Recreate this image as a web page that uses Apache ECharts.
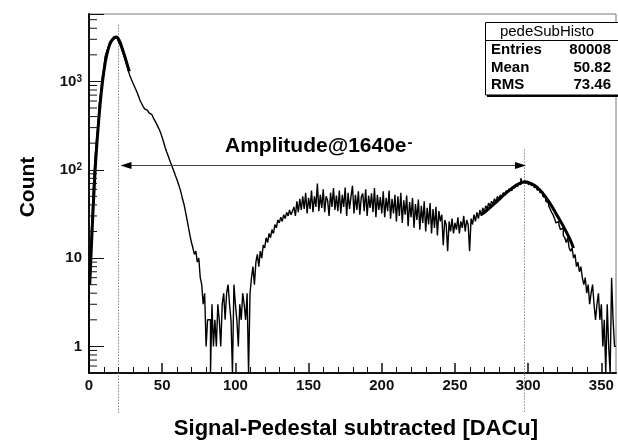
<!DOCTYPE html>
<html><head><meta charset="utf-8">
<script src="https://cdn.jsdelivr.net/npm/echarts@6/dist/echarts.min.js"></script>
<style>html,body{margin:0;padding:0;background:#fff}#c{width:618px;height:441px}</style>
</head><body><div id="c"></div>
<script>
// ---- data ----
const binStart = 0;
const binWidth = 1;
const counts = [
  5, 12, 27, 65, 130, 205, 300, 560, 750, 1100,
  1350, 1900, 2150, 2400, 2750, 2900, 3000, 3150, 3180, 3120,
  2850, 2650, 2400, 2150, 1950, 1700, 1500, 1300, 1150, 1050,
  960, 880, 810, 740, 670, 600, 560, 520, 490, 470,
  455, 440, 420, 405, 385, 360, 335, 310, 285, 260,
  232, 205, 180, 160, 145, 130, 118, 106, 96, 86,
  78, 70, 62, 54, 46, 40, 33, 27, 22, 18,
  15, 13, 11, 12, 9, 10, 6, 5, 3, 4,
  1, 2, 2, 0, 3, 1, 2, 1, 3, 2,
  1, 3, 4, 2, 4, 5, 3, 2, 0, 5,
  3, 2, 1, 3, 2, 4, 3, 2, 4, 0,
  4, 6, 8, 5, 9, 11, 8, 12, 10, 14,
  13, 17, 15, 19, 17, 21, 19, 24, 22, 27,
  25, 29, 26, 31, 28, 33, 30, 35, 31, 34,
  38, 30, 44, 33, 47, 35, 50, 36, 55, 32,
  48, 36, 58, 33, 50, 38, 70, 34, 52, 37,
  60, 33, 50, 45, 30, 55, 38, 62, 35, 51,
  34, 58, 32, 52, 38, 63, 30, 55, 36, 50,
  66, 32, 52, 35, 57, 31, 49, 54, 34, 60,
  30, 51, 37, 54, 33, 62, 29, 52, 35, 49,
  32, 57, 29, 48, 34, 58, 28, 47, 32, 52,
  26, 50, 30, 55, 25, 45, 31, 51, 23, 43,
  29, 48, 22, 41, 27, 46, 21, 39, 25, 44,
  20, 37, 24, 42, 19, 36, 22, 38, 18, 34,
  26, 31, 14, 27, 24, 12, 26, 20, 28, 19,
  25, 21, 29, 19, 26, 22, 30, 20, 27, 24,
  12, 28, 24, 31, 26, 33, 28, 35, 30, 37,
  33, 39, 36, 42, 38, 44, 41, 47, 43, 50,
  46, 52, 49, 55, 51, 58, 55, 61, 58, 64,
  62, 67, 65, 70, 68, 80, 71, 74, 70, 73,
  68, 71, 66, 68, 63, 64, 59, 60, 55, 56,
  50, 48, 44, 42, 39, 36, 33, 31, 28, 25,
  26, 24, 21, 22, 18, 17, 15, 17, 13, 12,
  13, 10, 11, 8, 9, 7, 8, 6, 5, 6,
  4, 5, 3, 4, 5, 3, 2, 3, 4, 2,
  3, 1, 2, 0, 3, 1, 0, 6, 2, 1
];
const fitLeftX = [0.5,1.5,2.5,3.5,4.5,5.5,6.5,7.5,8.5,9.5,10.5,11.5,12.5,13.5,14.5,15.5,16.5,17.5,18.5,19.5,20.5,21.5,22.5,23.5,24.5,25.5,26.5,27.5];
const fitLeftY = [5,12,28,60,120,210,340,530,780,1080,1420,1780,2120,2430,2700,2900,3050,3150,3180,3120,2950,2700,2420,2150,1900,1680,1480,1300];
const fitRightX = [268,272,276,280,284,288,292,296,298,300,304,308,312,316,320,324,328,331];
const fitRightY = [31,35,40,46,53,60,67,72,73,72,67,59,49,39,30,23,17,13];
const xMin = 0, xMax = 360, xInterval = 50;
const xMinorTicks = [10,20,30,40,60,70,80,90,110,120,130,140,160,170,180,190,210,220,230,240,260,270,280,290,310,320,330,340];
const yMin = 0.5, yMax = 5800;
const yMinorTicks = [0.6,0.7,0.8,0.9,2,3,4,5,6,7,8,9,20,30,40,50,60,70,80,90,200,300,400,500,600,700,800,900,2000,3000,4000,5000];
const markerX = [19.5, 297];
const markerTop = [4400, 170];
const markerBottom = 0.175;
const arrowFrom = 21.5, arrowTo = 298.5, arrowY = 113;
const statsTitle = 'pedeSubHisto';
const statsNames = ['Entries', 'Mean', 'RMS'];
const statsValues = ['80008', '50.82', '73.46'];
const xTitle = 'Signal-Pedestal subtracted [DACu]';
const yTitle = 'Count';
const annotation = 'Amplitude@1640e';

// ---- build ----
const FONT = '"Liberation Sans", Arial, Helvetica, sans-serif';
const histPts = [[binStart, yMin]];
counts.forEach((c, i) => histPts.push([binStart + (i + 1) * binWidth, c > 0 ? c : yMin]));

const chart = echarts.init(document.getElementById('c'), null, {renderer: 'canvas'});

const statsGraphics = [
  {type: 'rect', z: 100, shape: {x: 485.5, y: 22.5, width: 140, height: 72.5}, style: {fill: '#fff', stroke: '#000', lineWidth: 1}},
  {type: 'line', z: 101, shape: {x1: 485.5, y1: 40.5, x2: 618, y2: 40.5}, style: {stroke: '#000', lineWidth: 1}},
  {type: 'line', z: 101, shape: {x1: 487, y1: 96, x2: 618, y2: 96}, style: {stroke: '#000', lineWidth: 2}},
  {type: 'text', z: 102, style: {x: 547, y: 31.5, text: statsTitle, font: '15px ' + FONT, fill: '#000', align: 'center', verticalAlign: 'middle'}}
];
statsNames.forEach((n, i) => {
  statsGraphics.push({type: 'text', z: 102, style: {x: 491, y: 50 + i * 17.5, text: n, font: 'bold 15px ' + FONT, fill: '#000', align: 'left', verticalAlign: 'middle'}});
  statsGraphics.push({type: 'text', z: 102, style: {x: 611, y: 50 + i * 17.5, text: statsValues[i], font: 'bold 15px ' + FONT, fill: '#000', align: 'right', verticalAlign: 'middle'}});
});

const option = {
  animation: false,
  backgroundColor: '#fff',
  grid: {left: 89, right: 2, top: 14, bottom: 68, show: true, borderColor: '#777', borderWidth: 1},
  xAxis: {
    type: 'value', min: xMin, max: xMax, interval: xInterval,
    axisLine: {show: true, onZero: false, lineStyle: {color: '#111', width: 2}},
    axisTick: {show: true, inside: true, length: 10, lineStyle: {color: '#111', width: 1.5}},
    minorTick: {show: false},
    splitLine: {show: false},
    axisLabel: {color: '#111', fontFamily: FONT, fontWeight: 'bold', fontSize: 15, margin: 5}
  },
  yAxis: {
    type: 'log', logBase: 10, min: yMin, max: yMax,
    axisLine: {show: true, lineStyle: {color: '#111', width: 2}},
    axisTick: {show: true, inside: true, length: 15, lineStyle: {color: '#111', width: 1}},
    splitLine: {show: false},
    axisLabel: {
      color: '#111', fontFamily: FONT, fontWeight: 'bold', fontSize: 15, margin: 7,
      formatter: v => {
        const l = Math.log10(v), e = Math.round(l);
        if (Math.abs(l - e) > 1e-6) return '';
        if (e === 0) return '1';
        if (e === 1) return '10';
        return '{b|10}{s|' + e + '}';
      },
      rich: {
        b: {fontFamily: FONT, fontWeight: 'bold', fontSize: 15, color: '#111', verticalAlign: 'bottom', lineHeight: 15},
        s: {fontFamily: FONT, fontWeight: 'bold', fontSize: 10, color: '#111', verticalAlign: 'top', lineHeight: 10, padding: [0, 0, 13, 0]}
      }
    }
  },
  graphic: [
    {type: 'text', style: {x: 356, y: 429, text: xTitle, font: 'bold 22px ' + FONT, fill: '#000', align: 'center', verticalAlign: 'middle'}},
    {type: 'text', x: 28, y: 187, rotation: Math.PI / 2, style: {x: 0, y: 0, text: yTitle, font: 'bold 21px ' + FONT, fill: '#000', align: 'center', verticalAlign: 'middle'}},
    {type: 'text', style: {x: 225, y: 146, text: annotation + '{s|-}', font: 'bold 21px ' + FONT, fill: '#000', align: 'left', verticalAlign: 'middle',
      rich: {s: {font: 'bold 15px ' + FONT, fill: '#000', verticalAlign: 'top', lineHeight: 12, padding: [0, 0, 14, 1]}}}}
  ].concat(statsGraphics),
  series: [
    {
      type: 'line', name: 'hist', data: histPts, step: 'start', showSymbol: false, clip: true,
      lineStyle: {color: '#000', width: 1.4}, z: 3
    },
    {
      type: 'line', name: 'fitL', data: fitLeftX.map((x, i) => [x, fitLeftY[i]]), smooth: 0.3, showSymbol: false,
      lineStyle: {color: '#000', width: 3}, z: 4
    },
    {
      type: 'line', name: 'fitR', data: fitRightX.map((x, i) => [x, fitRightY[i]]), smooth: 0.3, showSymbol: false,
      lineStyle: {color: '#000', width: 3}, z: 4
    },
    {
      type: 'custom', name: 'yMinor', clip: false, silent: true, z: 5,
      data: yMinorTicks.map(v => [xMin, v]),
      encode: {x: 0, y: 1},
      renderItem: (params, api) => {
        const p = api.coord([api.value(0), api.value(1)]);
        return {type: 'line', shape: {x1: p[0], y1: p[1], x2: p[0] + 8, y2: p[1]}, style: {stroke: '#111', lineWidth: 1}};
      }
    },
    {
      type: 'custom', name: 'xMinor', clip: false, silent: true, z: 5,
      data: xMinorTicks.map(v => [v, yMin]),
      encode: {x: 0, y: 1},
      renderItem: (params, api) => {
        const p = api.coord([api.value(0), api.value(1)]);
        const x = Math.round(p[0]) + 0.5;
        return {type: 'line', shape: {x1: x, y1: p[1], x2: x, y2: p[1] - 6}, style: {stroke: '#111', lineWidth: 1}};
      }
    },
    {
      type: 'custom', name: 'markers', clip: false, silent: true, z: 2,
      data: markerX.map((x, i) => [x, markerTop[i], markerBottom]),
      encode: {x: 0, y: 1},
      renderItem: (params, api) => {
        const a = api.coord([api.value(0), api.value(1)]);
        const b = api.coord([api.value(0), api.value(2)]);
        const x = Math.round(a[0]) + 0.5;
        return {type: 'line', shape: {x1: x, y1: a[1], x2: x, y2: b[1]}, style: {stroke: '#888', lineWidth: 1, lineDash: [1.5, 1.5]}};
      }
    },
    {
      type: 'custom', name: 'arrow', clip: false, silent: true, z: 6,
      data: [[arrowFrom, arrowY, arrowTo]],
      encode: {x: 0, y: 1},
      renderItem: (params, api) => {
        const a = api.coord([api.value(0), api.value(1)]);
        const b = api.coord([api.value(2), api.value(1)]);
        const y = Math.round(a[1]) + 0.5, L = 11, H = 3.5;
        return {type: 'group', children: [
          {type: 'line', shape: {x1: a[0] + 4, y1: y, x2: b[0] - 4, y2: y}, style: {stroke: '#444', lineWidth: 1}},
          {type: 'polygon', shape: {points: [[a[0], y], [a[0] + L, y - H], [a[0] + L, y + H]]}, style: {fill: '#000'}},
          {type: 'polygon', shape: {points: [[b[0], y], [b[0] - L, y - H], [b[0] - L, y + H]]}, style: {fill: '#000'}}
        ]};
      }
    }
  ]
};
chart.setOption(option);
</script>
</body></html>
